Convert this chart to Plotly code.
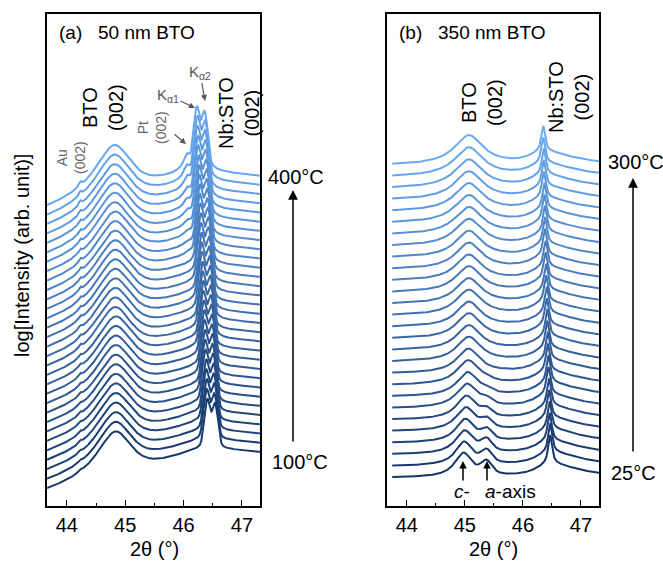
import numpy as np
import plotly.graph_objects as go

# ---------------- data ----------------
# Panel (a): 50 nm BTO, 100 -> 400 °C, 31 scans
temps_a = list(range(100, 401, 10))
sto_ka1_a = [46.41, 46.40, 46.40, 46.39, 46.39, 46.38, 46.37, 46.37, 46.36, 46.36,
             46.35, 46.34, 46.34, 46.33, 46.33, 46.32, 46.31, 46.31, 46.30, 46.30,
             46.29, 46.28, 46.28, 46.27, 46.27, 46.26, 46.25, 46.25, 46.24, 46.24, 46.23]
bto_pos_a = [44.84, 44.84, 44.84, 44.84, 44.84, 44.84, 44.84, 44.84, 44.84, 44.84,
             44.84, 44.84, 44.84, 44.83, 44.83, 44.83, 44.83, 44.83, 44.83, 44.83,
             44.83, 44.83, 44.83, 44.83, 44.82, 44.82, 44.82, 44.82, 44.82, 44.82, 44.82]
bto_amp_a = [13, 13.3, 13.5, 13.8, 14, 14.3, 14.5, 14.8, 15, 15.3,
             15.5, 15.8, 16, 16.3, 16.5, 16.8, 17, 17.3, 17.5, 17.8,
             18, 18.3, 18.5, 18.8, 19, 19.3, 19.5, 19.8, 20, 20.5, 21]
au_amp_a = [0.25, 0.25, 0.25, 0.3, 0.3, 0.3, 0.3, 0.35, 0.35, 0.35,
            0.4, 0.4, 0.4, 0.45, 0.45, 0.45, 0.5, 0.5, 0.5, 0.55,
            0.55, 0.6, 0.6, 0.6, 0.65, 0.65, 0.7, 0.7, 0.75, 0.75, 0.8]
pt_amp_a = [0, 0, 0, 0, 0, 0, 0, 0, 0, 0,
            0, 0, 0, 0, 0, 0, 0, 0, 0, 0,
            0, 0.5, 1, 1.5, 2, 2.5, 3, 4, 5, 6, 7]
sto_amp_a = [57, 59, 61, 63, 65, 67, 69, 71, 73, 75,
             77, 79, 81, 83, 85, 87, 89, 91, 93, 95,
             97, 99, 101, 103, 105, 108, 111, 114, 117, 121, 125]

# Panel (b): 350 nm BTO, 25 -> 300 °C, 28 scans
temps_b = [25] + list(range(40, 301, 10))
sto_pos_b = [46.47, 46.47, 46.46, 46.46, 46.45, 46.45, 46.44, 46.44, 46.43, 46.43,
             46.42, 46.42, 46.41, 46.41, 46.40, 46.40, 46.39, 46.39, 46.38, 46.38,
             46.38, 46.37, 46.37, 46.36, 46.36, 46.36, 46.35, 46.35]
c_pos_b = [44.98, 44.99, 45.00, 45.01, 45.02, 45.03, 45.04, 45.05, 45.06, 45.06,
           45.07, 45.07, 45.07, 45.07, 45.07, 45.07, 45.07, 45.07, 45.07, 45.07,
           45.07, 45.07, 45.07, 45.07, 45.07, 45.07, 45.07, 45.07]
c_width_b = [0.13, 0.13, 0.14, 0.14, 0.15, 0.15, 0.16, 0.16, 0.17, 0.17,
             0.18, 0.18, 0.18, 0.18, 0.19, 0.19, 0.19, 0.19, 0.19, 0.19,
             0.2, 0.2, 0.2, 0.2, 0.2, 0.2, 0.2, 0.2]
c_amp_b = [3.2, 3.1, 3.0, 3.0, 3.0, 3.0, 3.1, 3.1, 3.2, 3.2,
           3.3, 3.3, 3.4, 3.4, 3.5, 3.5, 3.6, 3.6, 3.7, 3.8,
           3.9, 4.0, 4.1, 4.2, 4.3, 4.4, 4.6, 4.8]
a_amp_b = [1.5, 1.4, 1.3, 1.1, 0.9, 0.7, 0.5, 0.3, 0.15, 0.0,
           0, 0, 0, 0, 0, 0, 0, 0, 0, 0, 0, 0, 0, 0, 0, 0, 0, 0]
sto_amp_b = [9.0, 9.0, 8.8, 8.8, 8.6, 8.6, 8.5, 8.5, 8.3, 8.3,
             8.2, 8.2, 8.1, 8.1, 8.0, 8.0, 7.9, 7.9, 7.8, 7.8,
             7.7, 7.7, 7.6, 7.6, 7.5, 7.5, 7.5, 7.5]

xticks = [44, 45, 46, 47]
X_MIN, X_MAX = 43.66, 47.31

# ---------------- peak shapes ----------------
def lor(x, c, w):
    return 1.0 / (1.0 + ((x - c) / w) ** 2)

def gau(x, c, s):
    return np.exp(-0.5 * ((x - c) / s) ** 2)

def pv(x, c, w, eta):
    return eta * lor(x, c, w) + (1 - eta) * gau(x, c, w / 1.1774)

def alor(x, c, wl, wr):
    w = np.where(x < c, wl, wr)
    return 1.0 / (1.0 + ((x - c) / w) ** 2)

xa = np.linspace(X_MIN, X_MAX, 1400)
xb = np.linspace(43.75, X_MAX, 1000)

K_A = 50.0
K_B = 40.0

def curve_a(i):
    x1 = sto_ka1_a[i]
    I = (0.1
         + au_amp_a[i] * lor(xa, 44.23, 0.03)
         + bto_amp_a[i] * pv(xa, bto_pos_a[i], 0.23, 0.85)
         + pt_amp_a[i] * lor(xa, 46.06, 0.06)
         + sto_amp_a[i] * (pv(xa, x1, 0.046, 0.2) + 0.8 * pv(xa, x1 + 0.125, 0.046, 0.2))
         + 6.0 * alor(xa, x1 + 0.06, 0.9, 2.5))
    y = K_A * np.log10(I)
    return y - y[0]

def curve_b(i):
    xs = sto_pos_b[i]
    I = (1.0
         + c_amp_b[i] * pv(xb, c_pos_b[i], c_width_b[i], 0.95)
         + a_amp_b[i] * pv(xb, 45.37, 0.1, 0.5)
         + sto_amp_b[i] * pv(xb, xs, 0.03, 0.7)
         + 1.2 * alor(xb, xs, 0.25, 0.5))
    y = K_B * np.log10(I)
    return y - y[0]

def colors(n, c0, c1):
    c0 = np.array([int(c0[k:k + 2], 16) for k in (1, 3, 5)], float)
    c1 = np.array([int(c1[k:k + 2], 16) for k in (1, 3, 5)], float)
    out = []
    for t in np.linspace(0, 1, n):
        c = c0 + (c1 - c0) * t
        out.append("rgb(%d,%d,%d)" % tuple(c))
    return out

W, H = 663, 562
fig = go.Figure()

cols_a = colors(len(temps_a), "#173a6d", "#66a5ef")
for i in range(len(temps_a)):
    off = 18 + 9.43 * i
    fig.add_trace(go.Scatter(x=xa, y=curve_a(i) + off, mode="lines",
                             line=dict(color=cols_a[i], width=2),
                             xaxis="x", yaxis="y", showlegend=False,
                             name="%d °C" % temps_a[i]))

cols_b = colors(len(temps_b), "#15356a", "#6aabf2")
for i in range(len(temps_b)):
    off = 29 + 11.6 * i
    fig.add_trace(go.Scatter(x=xb, y=curve_b(i) + off, mode="lines",
                             line=dict(color=cols_b[i], width=2),
                             xaxis="x2", yaxis="y2", showlegend=False,
                             name="%d °C" % temps_b[i]))

def P(x, y):
    return x / W, 1 - y / H

FONT = "Liberation Sans, Arial, sans-serif"
ann = []

def text(x, y, s, size=20, color="black", angle=0, xanchor="center"):
    px, py = P(x, y)
    ann.append(dict(x=px, y=py, xref="paper", yref="paper", text=s, showarrow=False,
                    textangle=angle, xanchor=xanchor, yanchor="middle",
                    font=dict(family=FONT, size=size, color=color)))

def arrow(hx, hy, tx, ty, color="black", width=1.5, size=1.0, s="", tsize=15):
    px, py = P(hx, hy)
    ann.append(dict(x=px, y=py, xref="paper", yref="paper", text=s, showarrow=True,
                    ax=tx - hx, ay=ty - hy, axref="pixel", ayref="pixel",
                    arrowhead=2, arrowsize=size, arrowwidth=width, arrowcolor=color,
                    font=dict(family=FONT, size=tsize, color=color)))

# panel (a)
text(57, 33, "(a)&nbsp;&nbsp;&nbsp;50 nm BTO", size=19, xanchor="left")
text(71, 158, "Au<br>(002)", size=14, color="#666666", angle=-90)
text(103, 108, "BTO<br>(002)", size=20, angle=-90)
text(152, 128, "Pt<br>(002)", size=14, color="#666666", angle=-90)
text(239, 113, "Nb:STO<br>(002)", size=20, angle=-90)
arrow(186, 144, 173, 133, color="#555555", width=1.2, size=1.0)
arrow(195, 108, 168, 95, color="#555555", width=1.2, size=1.0, s="K<sub>α1</sub>")
arrow(205, 101, 200, 72, color="#555555", width=1.2, size=1.0, s="K<sub>α2</sub>")
arrow(293, 190, 293, 443, width=1.5, size=1.3)
text(296, 177, "400°C")
text(300, 462, "100°C")

# panel (b)
text(397, 33, "(b)&nbsp;&nbsp;&nbsp;350 nm BTO", size=19, xanchor="left")
text(482, 103, "BTO<br>(002)", size=20, angle=-90)
text(569, 97, "Nb:STO<br>(002)", size=20, angle=-90)
arrow(633, 178, 633, 453, width=1.5, size=1.3)
text(636, 162, "300°C")
text(633, 473, "25°C")
arrow(463, 461, 463, 482, width=1.5, size=1.0)
arrow(487, 461, 487, 482, width=1.5, size=1.0)
text(462, 491, "<i>c</i>-", size=19)
text(510, 491, "<i>a</i>-axis", size=19)

# axis titles
text(154, 549, "2θ (°)")
text(493, 549, "2θ (°)")
text(22, 256, "log[Intensity (arb. unit)]", size=20, angle=-90)

xa_common = dict(range=[X_MIN, X_MAX], tickvals=xticks, ticktext=[str(v) for v in xticks],
                 ticks="inside", ticklen=6, tickwidth=1.3, tickcolor="black",
                 minor=dict(tickvals=[44.5, 45.5, 46.5], ticks="inside", ticklen=3,
                            tickwidth=1.2, tickcolor="black"),
                 showline=True, linecolor="black", linewidth=1.5, mirror=True,
                 showgrid=False, zeroline=False,
                 tickfont=dict(family=FONT, size=20, color="black"))
ya_common = dict(range=[0, 492], showticklabels=False, ticks="", showline=True,
                 linecolor="black", linewidth=1.5, mirror=True, showgrid=False,
                 zeroline=False, domain=[1 - 506 / H, 1 - 14 / H])

fig.update_layout(
    width=W, height=H, margin=dict(l=0, r=0, t=0, b=0),
    paper_bgcolor="white", plot_bgcolor="white",
    xaxis=dict(domain=[47 / W, 260 / W], anchor="y", **xa_common),
    xaxis2=dict(domain=[387 / W, 599 / W], anchor="y2", **xa_common),
    yaxis=dict(anchor="x", **ya_common),
    yaxis2=dict(anchor="x2", **ya_common),
    annotations=ann,
)

fig.write_html("out.html", config={"displayModeBar": False},
               post_script="document.body.style.margin='0px';document.body.style.overflow='hidden';")
